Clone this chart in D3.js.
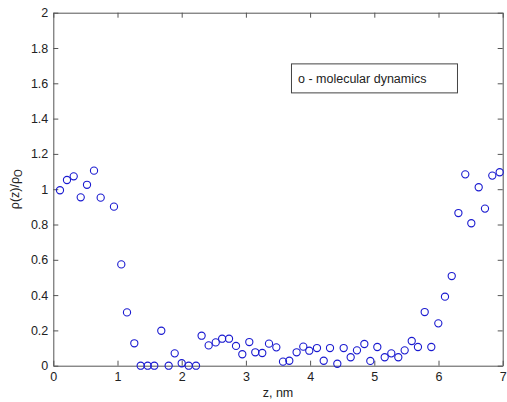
<!DOCTYPE html>
<html>
<head>
<meta charset="utf-8">
<style>
  body { margin: 0; background: #fff; }
  text { font-family: "Liberation Sans", Arial, sans-serif; }
</style>
</head>
<body>
<svg id="graph" width="507" height="402"></svg>
<script src="https://d3js.org/d3.v7.min.js"></script>
<script>
// density profile
var zVals = [0.104, 0.213, 0.318, 0.427, 0.525, 0.634, 0.738, 0.945, 1.059, 1.148,
  1.262, 1.361, 1.47, 1.573, 1.682, 1.797, 1.891, 2.0, 2.109, 2.223,
  2.31, 2.42, 2.53, 2.63, 2.737, 2.846, 2.944, 3.053, 3.146, 3.255,
  3.36, 3.474, 3.578, 3.676, 3.79, 3.894, 3.987, 4.107, 4.212, 4.31,
  4.424, 4.523, 4.632, 4.73, 4.845, 4.938, 5.047, 5.162, 5.265, 5.374,
  5.473, 5.583, 5.68, 5.785, 5.888, 5.997, 6.101, 6.206, 6.31, 6.417,
  6.511, 6.626, 6.724, 6.838, 6.953];
var rhoVals = [0.994, 1.052, 1.073, 0.954, 1.025, 1.105, 0.952, 0.901, 0.574, 0.302,
  0.127, 0, 0, 0, 0.198, 0, 0.07, 0.014, 0, 0,
  0.17, 0.115, 0.132, 0.153, 0.153, 0.112, 0.065, 0.134, 0.076, 0.072,
  0.125, 0.104, 0.023, 0.028, 0.076, 0.108, 0.085, 0.1, 0.028, 0.1,
  0.011, 0.1, 0.048, 0.087, 0.123, 0.027, 0.106, 0.048, 0.07, 0.048,
  0.087, 0.14, 0.106, 0.304, 0.106, 0.24, 0.391, 0.508, 0.865, 1.084,
  0.807, 1.011, 0.89, 1.077, 1.096];
var xTicks = [0, 1, 2, 3, 4, 5, 6, 7];
var yTicks = [0, 0.2, 0.4, 0.6, 0.8, 1, 1.2, 1.4, 1.6, 1.8, 2];
var legendText = "o - molecular dynamics";

var svg = d3.select("svg"),
    margin = {top: 12.7, right: 4.3, bottom: 36.3, left: 53.3},
    width = +svg.attr("width") - margin.left - margin.right,
    height = +svg.attr("height") - margin.top - margin.bottom,
    g = svg.append("g").attr("transform", "translate(" + margin.left + "," + margin.top + ")");

var x = d3.scaleLinear().domain([0, 7]).range([0, width]);
var y = d3.scaleLinear().domain([0, 2]).range([height, 0]);

var axisColor = "#555";

function styleAxis(sel) {
  sel.selectAll("path, line").attr("stroke", axisColor);
  sel.selectAll("text").attr("fill", "#222").style("font-size", "12.5px");
}

g.append("g")
    .attr("transform", "translate(0," + height + ")")
    .call(d3.axisBottom(x).tickValues(xTicks).tickSizeInner(-5).tickSizeOuter(0).tickPadding(6).tickFormat(d3.format("d")))
    .call(styleAxis);

g.append("g")
    .call(d3.axisTop(x).tickValues(xTicks).tickSizeInner(-5).tickSizeOuter(0).tickFormat(""))
    .call(styleAxis);

g.append("g")
    .call(d3.axisLeft(y).tickValues(yTicks).tickSizeInner(-5).tickSizeOuter(0).tickPadding(5).tickFormat(function(d) { return String(+d.toFixed(1)); }))
    .call(styleAxis);

g.append("g")
    .attr("transform", "translate(" + width + ",0)")
    .call(d3.axisRight(y).tickValues(yTicks).tickSizeInner(-5).tickSizeOuter(0).tickFormat(""))
    .call(styleAxis);

// points
g.selectAll("circle.pt")
    .data(zVals.map(function(z, i) { return {z: z, r: rhoVals[i]}; }))
  .enter().append("circle")
    .attr("class", "pt")
    .attr("cx", function(d) { return x(d.z); })
    .attr("cy", function(d) { return y(d.r); })
    .attr("r", 3.6)
    .attr("fill", "none")
    .attr("stroke", "#1a1ad0")
    .attr("stroke-width", 1.1);

// legend box (annotation)
var lg = g.append("g").attr("transform", "translate(" + (x(3.71)) + "," + (y(1.71)) + ")");
lg.append("rect")
    .attr("width", 166).attr("height", 29)
    .attr("fill", "#fff").attr("stroke", "#444").attr("stroke-width", 1);
lg.append("text")
    .attr("x", 6.5).attr("y", 19)
    .attr("fill", "#222").style("font-size", "12.5px")
    .text(legendText);

// axis labels
svg.append("text")
    .attr("x", margin.left + width / 2)
    .attr("y", 397)
    .attr("text-anchor", "middle")
    .attr("fill", "#222").style("font-size", "12.5px")
    .text("z, nm");

var yl = svg.append("text")
    .attr("transform", "translate(19," + (margin.top + height / 2) + ") rotate(-90)")
    .attr("text-anchor", "middle")
    .attr("fill", "#222").style("font-size", "12.5px");
yl.append("tspan").text("\u03c1(z)/\u03c1");
yl.append("tspan").attr("dy", 3).style("font-size", "10px").text("O");
</script>
</body>
</html>
